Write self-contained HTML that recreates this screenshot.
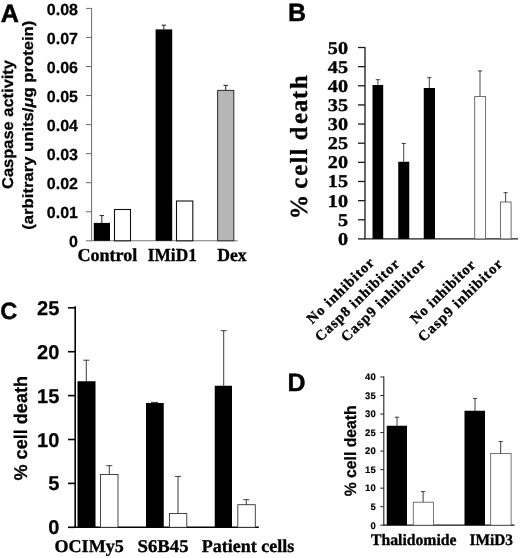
<!DOCTYPE html>
<html><head><meta charset="utf-8"><title>Figure</title>
<style>
html,body{margin:0;padding:0;background:#fff;}
body{width:520px;height:558px;overflow:hidden;font-family:"Liberation Sans",sans-serif;}
svg{display:block;will-change:transform;}
text{text-rendering:geometricPrecision;}
</style></head><body>
<svg width="520" height="558" viewBox="0 0 520 558">
<rect x="0" y="0" width="520" height="558" fill="#fff"/>
<text x="0.7" y="22.0" font-size="25.2" font-family="Liberation Sans, sans-serif" font-weight="bold" stroke="#000" stroke-width="0.5" stroke-linejoin="round" fill="#000">A</text>
<line x1="91.6" y1="8" x2="91.6" y2="240.8" stroke="#6a6a6a" stroke-width="1"/>
<line x1="91.1" y1="240.8" x2="237.5" y2="240.8" stroke="#777" stroke-width="1.1"/>
<line x1="86" y1="240.8" x2="91.6" y2="240.8" stroke="#6a6a6a" stroke-width="1"/>
<text x="78" y="246.9" font-size="16" font-family="Liberation Sans, sans-serif" font-weight="bold" text-anchor="end" stroke="#000" stroke-width="0.25" stroke-linejoin="round" fill="#000">0</text>
<line x1="86" y1="211.75" x2="91.6" y2="211.75" stroke="#6a6a6a" stroke-width="1"/>
<text x="78" y="217.85" font-size="16" font-family="Liberation Sans, sans-serif" font-weight="bold" text-anchor="end" stroke="#000" stroke-width="0.25" stroke-linejoin="round" fill="#000">0.01</text>
<line x1="86" y1="182.7" x2="91.6" y2="182.7" stroke="#6a6a6a" stroke-width="1"/>
<text x="78" y="188.8" font-size="16" font-family="Liberation Sans, sans-serif" font-weight="bold" text-anchor="end" stroke="#000" stroke-width="0.25" stroke-linejoin="round" fill="#000">0.02</text>
<line x1="86" y1="153.65" x2="91.6" y2="153.65" stroke="#6a6a6a" stroke-width="1"/>
<text x="78" y="159.75" font-size="16" font-family="Liberation Sans, sans-serif" font-weight="bold" text-anchor="end" stroke="#000" stroke-width="0.25" stroke-linejoin="round" fill="#000">0.03</text>
<line x1="86" y1="124.6" x2="91.6" y2="124.6" stroke="#6a6a6a" stroke-width="1"/>
<text x="78" y="130.7" font-size="16" font-family="Liberation Sans, sans-serif" font-weight="bold" text-anchor="end" stroke="#000" stroke-width="0.25" stroke-linejoin="round" fill="#000">0.04</text>
<line x1="86" y1="95.55" x2="91.6" y2="95.55" stroke="#6a6a6a" stroke-width="1"/>
<text x="78" y="101.65" font-size="16" font-family="Liberation Sans, sans-serif" font-weight="bold" text-anchor="end" stroke="#000" stroke-width="0.25" stroke-linejoin="round" fill="#000">0.05</text>
<line x1="86" y1="66.5" x2="91.6" y2="66.5" stroke="#6a6a6a" stroke-width="1"/>
<text x="78" y="72.6" font-size="16" font-family="Liberation Sans, sans-serif" font-weight="bold" text-anchor="end" stroke="#000" stroke-width="0.25" stroke-linejoin="round" fill="#000">0.06</text>
<line x1="86" y1="37.45" x2="91.6" y2="37.45" stroke="#6a6a6a" stroke-width="1"/>
<text x="78" y="43.55" font-size="16" font-family="Liberation Sans, sans-serif" font-weight="bold" text-anchor="end" stroke="#000" stroke-width="0.25" stroke-linejoin="round" fill="#000">0.07</text>
<line x1="86" y1="8.4" x2="91.6" y2="8.4" stroke="#6a6a6a" stroke-width="1"/>
<text x="78" y="14.5" font-size="16" font-family="Liberation Sans, sans-serif" font-weight="bold" text-anchor="end" stroke="#000" stroke-width="0.25" stroke-linejoin="round" fill="#000">0.08</text>
<rect x="93.8" y="222.9" width="16.2" height="17.9" fill="#000"/>
<line x1="101.8" y1="215.3" x2="101.8" y2="223" stroke="#333" stroke-width="1.1"/>
<line x1="99.6" y1="215.5" x2="104.0" y2="215.5" stroke="#333" stroke-width="1.1"/>
<rect x="114.5" y="209.5" width="16.0" height="31.3" fill="#fff" stroke="#111" stroke-width="1.1"/>
<rect x="155.6" y="29.4" width="16.6" height="211.4" fill="#000"/>
<line x1="163.8" y1="25.0" x2="163.8" y2="29.6" stroke="#333" stroke-width="1.1"/>
<line x1="161.60000000000002" y1="25.2" x2="166.0" y2="25.2" stroke="#333" stroke-width="1.1"/>
<rect x="176.5" y="201" width="16.3" height="39.8" fill="#fff" stroke="#111" stroke-width="1.1"/>
<rect x="217.6" y="90.4" width="16.2" height="150.4" fill="#b6b6b6" stroke="#2a2a2a" stroke-width="1"/>
<line x1="225.7" y1="85.2" x2="225.7" y2="90" stroke="#333" stroke-width="1.1"/>
<line x1="223.5" y1="85.4" x2="227.89999999999998" y2="85.4" stroke="#333" stroke-width="1.1"/>
<text x="77.4" y="260.8" font-size="18.3" font-family="Liberation Serif, serif" font-weight="bold" textLength="60" lengthAdjust="spacingAndGlyphs" stroke="#000" stroke-width="0.35" stroke-linejoin="round" fill="#000">Control</text>
<text x="147.8" y="260.8" font-size="18.3" font-family="Liberation Serif, serif" font-weight="bold" textLength="49" lengthAdjust="spacingAndGlyphs" stroke="#000" stroke-width="0.35" stroke-linejoin="round" fill="#000">IMiD1</text>
<text x="217.2" y="260.8" font-size="18.3" font-family="Liberation Serif, serif" font-weight="bold" textLength="29.5" lengthAdjust="spacingAndGlyphs" stroke="#000" stroke-width="0.35" stroke-linejoin="round" fill="#000">Dex</text>
<text transform="translate(13 189) rotate(-90)" font-size="15.6" font-family="Liberation Sans, sans-serif" font-weight="bold" textLength="129" lengthAdjust="spacingAndGlyphs" stroke="#000" stroke-width="0.25" stroke-linejoin="round" fill="#000">Caspase activity</text>
<text transform="translate(33.2 229.7) rotate(-90)" font-size="15" font-family="Liberation Sans, sans-serif" font-weight="bold" textLength="209" lengthAdjust="spacingAndGlyphs" stroke="#000" stroke-width="0.25" stroke-linejoin="round" fill="#000">(arbitrary units/<tspan font-style="italic">μ</tspan>g protein)</text>
<text x="288" y="21.2" font-size="25" font-family="Liberation Sans, sans-serif" font-weight="bold" stroke="#000" stroke-width="0.4" stroke-linejoin="round" fill="#000">B</text>
<line x1="365" y1="47" x2="365" y2="238.9" stroke="#1a1a1a" stroke-width="1.3"/>
<line x1="364.4" y1="238.9" x2="518" y2="238.9" stroke="#1a1a1a" stroke-width="1.4"/>
<line x1="358" y1="238.9" x2="365" y2="238.9" stroke="#1a1a1a" stroke-width="1.3"/>
<text transform="translate(348 244.9) scale(1.12 1)" font-size="18" font-family="Liberation Serif, serif" font-weight="bold" text-anchor="end" stroke="#000" stroke-width="0.35" stroke-linejoin="round" fill="#000">0</text>
<line x1="358" y1="219.76" x2="365" y2="219.76" stroke="#1a1a1a" stroke-width="1.3"/>
<text transform="translate(348 225.76) scale(1.12 1)" font-size="18" font-family="Liberation Serif, serif" font-weight="bold" text-anchor="end" stroke="#000" stroke-width="0.35" stroke-linejoin="round" fill="#000">5</text>
<line x1="358" y1="200.62" x2="365" y2="200.62" stroke="#1a1a1a" stroke-width="1.3"/>
<text transform="translate(348 206.62) scale(1.12 1)" font-size="18" font-family="Liberation Serif, serif" font-weight="bold" text-anchor="end" stroke="#000" stroke-width="0.35" stroke-linejoin="round" fill="#000">10</text>
<line x1="358" y1="181.48" x2="365" y2="181.48" stroke="#1a1a1a" stroke-width="1.3"/>
<text transform="translate(348 187.48) scale(1.12 1)" font-size="18" font-family="Liberation Serif, serif" font-weight="bold" text-anchor="end" stroke="#000" stroke-width="0.35" stroke-linejoin="round" fill="#000">15</text>
<line x1="358" y1="162.34" x2="365" y2="162.34" stroke="#1a1a1a" stroke-width="1.3"/>
<text transform="translate(348 168.34) scale(1.12 1)" font-size="18" font-family="Liberation Serif, serif" font-weight="bold" text-anchor="end" stroke="#000" stroke-width="0.35" stroke-linejoin="round" fill="#000">20</text>
<line x1="358" y1="143.2" x2="365" y2="143.2" stroke="#1a1a1a" stroke-width="1.3"/>
<text transform="translate(348 149.2) scale(1.12 1)" font-size="18" font-family="Liberation Serif, serif" font-weight="bold" text-anchor="end" stroke="#000" stroke-width="0.35" stroke-linejoin="round" fill="#000">25</text>
<line x1="358" y1="124.06" x2="365" y2="124.06" stroke="#1a1a1a" stroke-width="1.3"/>
<text transform="translate(348 130.06) scale(1.12 1)" font-size="18" font-family="Liberation Serif, serif" font-weight="bold" text-anchor="end" stroke="#000" stroke-width="0.35" stroke-linejoin="round" fill="#000">30</text>
<line x1="358" y1="104.92" x2="365" y2="104.92" stroke="#1a1a1a" stroke-width="1.3"/>
<text transform="translate(348 110.92) scale(1.12 1)" font-size="18" font-family="Liberation Serif, serif" font-weight="bold" text-anchor="end" stroke="#000" stroke-width="0.35" stroke-linejoin="round" fill="#000">35</text>
<line x1="358" y1="85.78" x2="365" y2="85.78" stroke="#1a1a1a" stroke-width="1.3"/>
<text transform="translate(348 91.78) scale(1.12 1)" font-size="18" font-family="Liberation Serif, serif" font-weight="bold" text-anchor="end" stroke="#000" stroke-width="0.35" stroke-linejoin="round" fill="#000">40</text>
<line x1="358" y1="66.64" x2="365" y2="66.64" stroke="#1a1a1a" stroke-width="1.3"/>
<text transform="translate(348 72.64) scale(1.12 1)" font-size="18" font-family="Liberation Serif, serif" font-weight="bold" text-anchor="end" stroke="#000" stroke-width="0.35" stroke-linejoin="round" fill="#000">45</text>
<line x1="358" y1="47.5" x2="365" y2="47.5" stroke="#1a1a1a" stroke-width="1.3"/>
<text transform="translate(348 53.5) scale(1.12 1)" font-size="18" font-family="Liberation Serif, serif" font-weight="bold" text-anchor="end" stroke="#000" stroke-width="0.35" stroke-linejoin="round" fill="#000">50</text>
<rect x="372.5" y="85" width="10.7" height="153.9" fill="#000"/>
<line x1="377.9" y1="79.5" x2="377.9" y2="85" stroke="#222" stroke-width="0.85"/>
<line x1="375.79999999999995" y1="79.7" x2="380.0" y2="79.7" stroke="#222" stroke-width="0.85"/>
<rect x="398.25" y="161.75" width="11.0" height="77.15" fill="#000"/>
<line x1="403.7" y1="143.25" x2="403.7" y2="162" stroke="#222" stroke-width="0.85"/>
<line x1="401.59999999999997" y1="143.45" x2="405.8" y2="143.45" stroke="#222" stroke-width="0.85"/>
<rect x="423.75" y="88" width="11.25" height="150.9" fill="#000"/>
<line x1="429.3" y1="77.5" x2="429.3" y2="88" stroke="#222" stroke-width="0.85"/>
<line x1="427.2" y1="77.7" x2="431.40000000000003" y2="77.7" stroke="#222" stroke-width="0.85"/>
<rect x="474.7" y="96.6" width="10.9" height="142.3" fill="#fff" stroke="#555" stroke-width="0.85"/>
<line x1="480" y1="70.75" x2="480" y2="96" stroke="#222" stroke-width="0.85"/>
<line x1="477.9" y1="70.95" x2="482.1" y2="70.95" stroke="#222" stroke-width="0.85"/>
<rect x="500.4" y="202" width="10.7" height="36.9" fill="#fff" stroke="#555" stroke-width="0.85"/>
<line x1="505.6" y1="192.5" x2="505.6" y2="202" stroke="#222" stroke-width="0.85"/>
<line x1="503.5" y1="192.7" x2="507.70000000000005" y2="192.7" stroke="#222" stroke-width="0.85"/>
<text transform="translate(306.6 216.7) rotate(-90)" font-size="24.5" font-family="Liberation Serif, serif" font-weight="bold" stroke="#000" stroke-width="0.3" x="-2.5 20 27.9 40.9 53.2 61.2 68 76.5 92.8 104.7 117.8 127.6">% cell death</text>
<text transform="translate(312.3 324.5) rotate(-44.2)" font-size="14.5" font-family="Liberation Serif, serif" font-weight="bold" textLength="87.3" lengthAdjust="spacing" stroke="#000" stroke-width="0.35" stroke-linejoin="round" fill="#000">No inhibitor</text>
<text transform="translate(320.5 342.3) rotate(-44.2)" font-size="14.5" font-family="Liberation Serif, serif" font-weight="bold" textLength="111" lengthAdjust="spacing" stroke="#000" stroke-width="0.35" stroke-linejoin="round" fill="#000">Casp8 inhibitor</text>
<text transform="translate(346.5 342.5) rotate(-44.2)" font-size="14.5" font-family="Liberation Serif, serif" font-weight="bold" textLength="111" lengthAdjust="spacing" stroke="#000" stroke-width="0.35" stroke-linejoin="round" fill="#000">Casp9 inhibitor</text>
<text transform="translate(415.8 324.5) rotate(-44.2)" font-size="14.5" font-family="Liberation Serif, serif" font-weight="bold" textLength="84" lengthAdjust="spacing" stroke="#000" stroke-width="0.35" stroke-linejoin="round" fill="#000">No inhibitor</text>
<text transform="translate(423.5 342.5) rotate(-44.2)" font-size="14.5" font-family="Liberation Serif, serif" font-weight="bold" textLength="111" lengthAdjust="spacing" stroke="#000" stroke-width="0.35" stroke-linejoin="round" fill="#000">Casp9 inhibitor</text>
<text x="0.3" y="319" font-size="23.6" font-family="Liberation Sans, sans-serif" font-weight="bold" stroke="#000" stroke-width="0.4" stroke-linejoin="round" fill="#000">C</text>
<line x1="75.2" y1="306.3" x2="75.2" y2="527.3" stroke="#000" stroke-width="1.6"/>
<line x1="74.4" y1="527.3" x2="258.8" y2="527.3" stroke="#000" stroke-width="1.6"/>
<line x1="68" y1="527.3" x2="75.2" y2="527.3" stroke="#000" stroke-width="1.6"/>
<text x="59.3" y="534.3" font-size="20" font-family="Liberation Sans, sans-serif" font-weight="bold" text-anchor="end" stroke="#000" stroke-width="0.25" stroke-linejoin="round" fill="#000">0</text>
<line x1="68" y1="483.4" x2="75.2" y2="483.4" stroke="#000" stroke-width="1.6"/>
<text x="59.3" y="490.4" font-size="20" font-family="Liberation Sans, sans-serif" font-weight="bold" text-anchor="end" stroke="#000" stroke-width="0.25" stroke-linejoin="round" fill="#000">5</text>
<line x1="68" y1="439.5" x2="75.2" y2="439.5" stroke="#000" stroke-width="1.6"/>
<text x="59.3" y="446.5" font-size="20" font-family="Liberation Sans, sans-serif" font-weight="bold" text-anchor="end" stroke="#000" stroke-width="0.25" stroke-linejoin="round" fill="#000">10</text>
<line x1="68" y1="395.6" x2="75.2" y2="395.6" stroke="#000" stroke-width="1.6"/>
<text x="59.3" y="402.6" font-size="20" font-family="Liberation Sans, sans-serif" font-weight="bold" text-anchor="end" stroke="#000" stroke-width="0.25" stroke-linejoin="round" fill="#000">15</text>
<line x1="68" y1="351.7" x2="75.2" y2="351.7" stroke="#000" stroke-width="1.6"/>
<text x="59.3" y="358.7" font-size="20" font-family="Liberation Sans, sans-serif" font-weight="bold" text-anchor="end" stroke="#000" stroke-width="0.25" stroke-linejoin="round" fill="#000">20</text>
<line x1="68" y1="307.8" x2="75.2" y2="307.8" stroke="#000" stroke-width="1.6"/>
<text x="59.3" y="314.8" font-size="20" font-family="Liberation Sans, sans-serif" font-weight="bold" text-anchor="end" stroke="#000" stroke-width="0.25" stroke-linejoin="round" fill="#000">25</text>
<rect x="77.5" y="381.25" width="18.0" height="146.05" fill="#000"/>
<line x1="86.3" y1="360" x2="86.3" y2="381.5" stroke="#333" stroke-width="0.95"/>
<line x1="83.3" y1="360.2" x2="89.3" y2="360.2" stroke="#333" stroke-width="0.95"/>
<rect x="100.5" y="474.5" width="17.5" height="52.8" fill="#fff" stroke="#333" stroke-width="0.9"/>
<line x1="109.3" y1="465.5" x2="109.3" y2="474.5" stroke="#333" stroke-width="0.95"/>
<line x1="106.3" y1="465.7" x2="112.3" y2="465.7" stroke="#333" stroke-width="0.95"/>
<rect x="146" y="403" width="17.75" height="124.3" fill="#000"/>
<line x1="151" y1="402.4" x2="158" y2="402.4" stroke="#333" stroke-width="1"/>
<rect x="169.5" y="513.5" width="17.3" height="13.8" fill="#fff" stroke="#333" stroke-width="0.9"/>
<line x1="178" y1="476.25" x2="178" y2="513.5" stroke="#333" stroke-width="0.95"/>
<line x1="175.0" y1="476.45" x2="181.0" y2="476.45" stroke="#333" stroke-width="0.95"/>
<rect x="214.75" y="385.75" width="17.25" height="141.55" fill="#000"/>
<line x1="223.7" y1="330.5" x2="223.7" y2="386" stroke="#333" stroke-width="0.95"/>
<line x1="220.7" y1="330.7" x2="226.7" y2="330.7" stroke="#333" stroke-width="0.95"/>
<rect x="237.8" y="504.7" width="17.5" height="22.6" fill="#fff" stroke="#333" stroke-width="0.9"/>
<line x1="246.3" y1="499.5" x2="246.3" y2="505" stroke="#333" stroke-width="0.95"/>
<line x1="243.3" y1="499.7" x2="249.3" y2="499.7" stroke="#333" stroke-width="0.95"/>
<text transform="translate(27 480.5) rotate(-90)" font-size="18.4" font-family="Liberation Sans, sans-serif" font-weight="bold" textLength="104.5" lengthAdjust="spacingAndGlyphs" stroke="#000" stroke-width="0.25" stroke-linejoin="round" fill="#000">% cell death</text>
<text x="54.5" y="552" font-size="18" font-family="Liberation Serif, serif" font-weight="bold" textLength="69.3" lengthAdjust="spacingAndGlyphs" stroke="#000" stroke-width="0.35" stroke-linejoin="round" fill="#000">OCIMy5</text>
<text x="137.6" y="552" font-size="18" font-family="Liberation Serif, serif" font-weight="bold" textLength="51" lengthAdjust="spacingAndGlyphs" stroke="#000" stroke-width="0.35" stroke-linejoin="round" fill="#000">S6B45</text>
<text x="201.8" y="552" font-size="18" font-family="Liberation Serif, serif" font-weight="bold" textLength="92.5" lengthAdjust="spacingAndGlyphs" stroke="#000" stroke-width="0.35" stroke-linejoin="round" fill="#000">Patient cells</text>
<text x="287.5" y="390.6" font-size="25" font-family="Liberation Sans, sans-serif" font-weight="bold" stroke="#000" stroke-width="0.4" stroke-linejoin="round" fill="#000">D</text>
<line x1="383.8" y1="376.5" x2="383.8" y2="525.2" stroke="#222" stroke-width="1.1"/>
<line x1="383.3" y1="525.2" x2="514.5" y2="525.2" stroke="#111" stroke-width="1.3"/>
<line x1="380.3" y1="525.2" x2="383.8" y2="525.2" stroke="#222" stroke-width="1"/>
<text x="375.7" y="528.5" font-size="9.5" font-family="Liberation Sans, sans-serif" font-weight="bold" text-anchor="end" stroke="#000" stroke-width="0.15" stroke-linejoin="round" fill="#000">0</text>
<line x1="380.3" y1="506.68" x2="383.8" y2="506.68" stroke="#222" stroke-width="1"/>
<text x="375.7" y="509.98" font-size="9.5" font-family="Liberation Sans, sans-serif" font-weight="bold" text-anchor="end" stroke="#000" stroke-width="0.15" stroke-linejoin="round" fill="#000">5</text>
<line x1="380.3" y1="488.15" x2="383.8" y2="488.15" stroke="#222" stroke-width="1"/>
<text x="375.7" y="491.45" font-size="9.5" font-family="Liberation Sans, sans-serif" font-weight="bold" text-anchor="end" stroke="#000" stroke-width="0.15" stroke-linejoin="round" fill="#000">10</text>
<line x1="380.3" y1="469.63" x2="383.8" y2="469.63" stroke="#222" stroke-width="1"/>
<text x="375.7" y="472.93" font-size="9.5" font-family="Liberation Sans, sans-serif" font-weight="bold" text-anchor="end" stroke="#000" stroke-width="0.15" stroke-linejoin="round" fill="#000">15</text>
<line x1="380.3" y1="451.1" x2="383.8" y2="451.1" stroke="#222" stroke-width="1"/>
<text x="375.7" y="454.4" font-size="9.5" font-family="Liberation Sans, sans-serif" font-weight="bold" text-anchor="end" stroke="#000" stroke-width="0.15" stroke-linejoin="round" fill="#000">20</text>
<line x1="380.3" y1="432.58" x2="383.8" y2="432.58" stroke="#222" stroke-width="1"/>
<text x="375.7" y="435.88" font-size="9.5" font-family="Liberation Sans, sans-serif" font-weight="bold" text-anchor="end" stroke="#000" stroke-width="0.15" stroke-linejoin="round" fill="#000">25</text>
<line x1="380.3" y1="414.05" x2="383.8" y2="414.05" stroke="#222" stroke-width="1"/>
<text x="375.7" y="417.35" font-size="9.5" font-family="Liberation Sans, sans-serif" font-weight="bold" text-anchor="end" stroke="#000" stroke-width="0.15" stroke-linejoin="round" fill="#000">30</text>
<line x1="380.3" y1="395.53" x2="383.8" y2="395.53" stroke="#222" stroke-width="1"/>
<text x="375.7" y="398.83" font-size="9.5" font-family="Liberation Sans, sans-serif" font-weight="bold" text-anchor="end" stroke="#000" stroke-width="0.15" stroke-linejoin="round" fill="#000">35</text>
<line x1="380.3" y1="377.0" x2="383.8" y2="377.0" stroke="#222" stroke-width="1"/>
<text x="375.7" y="380.3" font-size="9.5" font-family="Liberation Sans, sans-serif" font-weight="bold" text-anchor="end" stroke="#000" stroke-width="0.15" stroke-linejoin="round" fill="#000">40</text>
<rect x="386.75" y="425.75" width="20.25" height="99.45" fill="#000"/>
<line x1="397" y1="417" x2="397" y2="426" stroke="#333" stroke-width="0.95"/>
<line x1="394.9" y1="417.2" x2="399.1" y2="417.2" stroke="#333" stroke-width="0.95"/>
<rect x="413.3" y="502.2" width="20.1" height="23.0" fill="#fff" stroke="#555" stroke-width="0.8"/>
<line x1="423.1" y1="491.4" x2="423.1" y2="502" stroke="#333" stroke-width="0.95"/>
<line x1="421.0" y1="491.59999999999997" x2="425.20000000000005" y2="491.59999999999997" stroke="#333" stroke-width="0.95"/>
<rect x="464.5" y="410.75" width="20.5" height="114.45" fill="#000"/>
<line x1="475" y1="398.25" x2="475" y2="411" stroke="#333" stroke-width="0.95"/>
<line x1="472.9" y1="398.45" x2="477.1" y2="398.45" stroke="#333" stroke-width="0.95"/>
<rect x="490.7" y="453.5" width="20.4" height="71.7" fill="#fff" stroke="#555" stroke-width="0.8"/>
<line x1="500.7" y1="441.25" x2="500.7" y2="453.5" stroke="#333" stroke-width="0.95"/>
<line x1="498.59999999999997" y1="441.45" x2="502.8" y2="441.45" stroke="#333" stroke-width="0.95"/>
<text transform="translate(355.8 496.3) rotate(-90)" font-size="16.4" font-family="Liberation Sans, sans-serif" font-weight="bold" textLength="91" lengthAdjust="spacingAndGlyphs" stroke="#000" stroke-width="0.25" stroke-linejoin="round" fill="#000">% cell death</text>
<text x="371" y="545" font-size="16" font-family="Liberation Serif, serif" font-weight="bold" textLength="85.5" lengthAdjust="spacingAndGlyphs" stroke="#000" stroke-width="0.35" stroke-linejoin="round" fill="#000">Thalidomide</text>
<text x="469.5" y="545" font-size="16" font-family="Liberation Serif, serif" font-weight="bold" textLength="43.5" lengthAdjust="spacingAndGlyphs" stroke="#000" stroke-width="0.35" stroke-linejoin="round" fill="#000">IMiD3</text>
</svg>
</body></html>
